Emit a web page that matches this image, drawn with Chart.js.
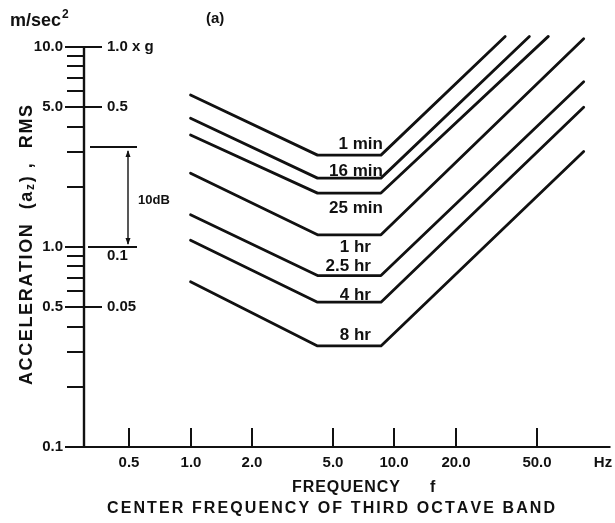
<!DOCTYPE html>
<html>
<head>
<meta charset="utf-8">
<script src="https://cdn.jsdelivr.net/npm/chart.js@4.4.1/dist/chart.umd.min.js"></script>
<style>
  html, body { margin: 0; padding: 0; background: #fff; }
  canvas { display: block; }
</style>
</head>
<body>
<canvas id="chart" width="615" height="523"></canvas>
<script>
// exposure curves (m/sec^2 against Hz)
const seriesNames = ['1 min', '16 min', '25 min', '1 hr', '2.5 hr', '4 hr', '8 hr']
const startFreq = 1.0
const kneeFreqs = [4.2, 8.6]
const startValues = [5.75, 4.40, 3.63, 2.34, 1.45, 1.08, 0.67]
const flatValues = [2.88, 2.21, 1.86, 1.15, 0.72, 0.53, 0.32]
const endFreqs = [35, 46, 57, 85, 85, 85, 85]
const endValues = [11.3, 11.3, 11.3, 11.0, 6.7, 5.0, 3.0]

// axes
const freqTicks = [0.5, 1, 2, 5, 10, 20, 50]
const freqTickLabels = ['0.5', '1.0', '2.0', '5.0', '10.0', '20.0', '50.0']
const accelMajor = [10, 5, 1, 0.5, 0.1]
const accelMajorLabels = ['10.0', '5.0', '1.0', '0.5', '0.1']
const gMajorLabels = ['1.0 x g', '0.5', '0.1', '0.05', null]
const accelMinor = [9, 8, 7, 6, 4, 3, 2, 0.9, 0.8, 0.7, 0.6, 0.4, 0.3, 0.2]

const INK = '#111'
const FONT = '"Liberation Sans", Arial, sans-serif'

// draws a run of text pieces, spreading the letters so the run spans `width`
function drawRun(ctx, parts, x0, y, width) {
  ctx.textAlign = 'left'
  ctx.textBaseline = 'middle'
  let natural = 0, count = 0
  parts.forEach(p => {
    ctx.font = p.font
    for (const ch of p.text) { natural += ctx.measureText(ch).width; count++ }
  })
  const gap = count > 1 ? (width - natural) / (count - 1) : 0
  let cx = x0
  parts.forEach(p => {
    ctx.font = p.font
    for (const ch of p.text) {
      ctx.fillText(ch, cx, y + (p.dy || 0))
      cx += ctx.measureText(ch).width + gap
    }
  })
}

const nameOffsets = [[2, -11], [2, -7], [2, 15], [-10, 12], [-10, -9], [-10, -7], [-10, -11]]

const figureAxes = {
  id: 'figureAxes',
  afterDatasetsDraw(chart) {
    const { ctx, scales: { x, y } } = chart
    const ax = x.left
    const by = y.getPixelForValue(0.1)
    ctx.save()
    ctx.strokeStyle = INK
    ctx.fillStyle = INK
    ctx.lineCap = 'butt'

    // axis lines
    ctx.lineWidth = 2.4
    ctx.beginPath()
    ctx.moveTo(ax, by)
    ctx.lineTo(ax, y.getPixelForValue(10))
    ctx.stroke()
    ctx.lineWidth = 2
    ctx.beginPath()
    ctx.moveTo(ax - 17, by)
    ctx.lineTo(x.right + 4, by)
    ctx.stroke()

    // y minor ticks (left of axis)
    accelMinor.forEach(v => {
      const py = Math.round(y.getPixelForValue(v))
      ctx.beginPath()
      ctx.moveTo(ax - 17, py)
      ctx.lineTo(ax, py)
      ctx.stroke()
    })

    // y major ticks and labels, m/sec^2 on the left, g on the right
    ctx.font = 'bold 15px ' + FONT
    accelMajor.forEach((v, i) => {
      const py = Math.round(y.getPixelForValue(v))
      ctx.beginPath()
      ctx.moveTo(ax - 19, py)
      ctx.lineTo(ax, py)
      ctx.stroke()
      ctx.textAlign = 'right'
      ctx.textBaseline = 'middle'
      ctx.fillText(accelMajorLabels[i], ax - 21, py)
      if (gMajorLabels[i]) {
        if (v !== 1) {
          ctx.beginPath()
          ctx.moveTo(ax, py)
          ctx.lineTo(ax + 18, py)
          ctx.stroke()
        }
        ctx.textAlign = 'left'
        ctx.fillText(gMajorLabels[i], ax + 23, v === 1 ? py + 9 : py)
      }
    })

    // x ticks and labels
    freqTicks.forEach((f, i) => {
      const px = Math.round(x.getPixelForValue(f))
      ctx.beginPath()
      ctx.moveTo(px, by)
      ctx.lineTo(px, by - 19)
      ctx.stroke()
      ctx.textAlign = 'center'
      ctx.textBaseline = 'middle'
      ctx.fillText(freqTickLabels[i], px, by + 16)
    })
    ctx.fillText('Hz', 603, by + 16)

    // 10 dB bracket
    const y1 = Math.round(y.getPixelForValue(1))
    const y10 = Math.round(y.getPixelForValue(Math.pow(10, 10 / 20)))
    ctx.lineWidth = 2
    ctx.beginPath()
    ctx.moveTo(ax + 6, y10); ctx.lineTo(137, y10)
    ctx.moveTo(ax + 4, y1); ctx.lineTo(137, y1)
    ctx.stroke()
    ctx.lineWidth = 1.4
    ctx.beginPath()
    ctx.moveTo(128, y10 + 4); ctx.lineTo(128, y1 - 3)
    ctx.stroke()
    ctx.beginPath()
    ctx.moveTo(128, y10 + 3); ctx.lineTo(125.5, y10 + 10); ctx.lineTo(130.5, y10 + 10); ctx.closePath()
    ctx.moveTo(128, y1 - 2); ctx.lineTo(125.5, y1 - 9); ctx.lineTo(130.5, y1 - 9); ctx.closePath()
    ctx.fill()
    ctx.font = 'bold 13px ' + FONT
    ctx.textAlign = 'left'
    ctx.textBaseline = 'middle'
    ctx.fillText('10dB', 138, (y1 + y10) / 2 + 3)

    // curve names beside the flat part
    const kx = x.getPixelForValue(kneeFreqs[1])
    ctx.font = 'bold 17px ' + FONT
    ctx.textAlign = 'right'
    ctx.textBaseline = 'middle'
    seriesNames.forEach((name, i) => {
      const [dx, dy] = nameOffsets[i]
      ctx.fillText(name, kx + dx, y.getPixelForValue(flatValues[i]) + dy)
    })

    // units and panel mark
    ctx.textAlign = 'left'
    ctx.textBaseline = 'alphabetic'
    ctx.font = 'bold 18px ' + FONT
    ctx.fillText('m/sec', 10, 26)
    const w = ctx.measureText('m/sec').width
    ctx.font = 'bold 12px ' + FONT
    ctx.fillText('2', 10 + w + 1, 18)
    ctx.font = 'bold 15px ' + FONT
    ctx.fillText('(a)', 206, 23)

    // x titles
    drawRun(ctx, [{ text: 'FREQUENCY', font: 'bold 16px ' + FONT }], 292, 488, 108)
    ctx.font = 'bold 16px ' + FONT
    ctx.fillText('f', 430, 488)
    drawRun(ctx, [{ text: 'CENTER FREQUENCY OF THIRD OCTAVE BAND', font: 'bold 16px ' + FONT }], 107, 509, 448)

    // y title
    ctx.translate(27, 245)
    ctx.rotate(-Math.PI / 2)
    drawRun(ctx, [
      { text: 'ACCELERATION  (a', font: 'bold 18px ' + FONT },
      { text: 'z', font: 'bold 12px ' + FONT, dy: 4 },
      { text: ') ,  RMS', font: 'bold 18px ' + FONT }
    ], -140, 0, 280)

    ctx.restore()
  }
}

const datasets = seriesNames.map((name, i) => ({
  label: name,
  data: [
    { x: startFreq, y: startValues[i] },
    { x: kneeFreqs[0], y: flatValues[i] },
    { x: kneeFreqs[1], y: flatValues[i] },
    { x: endFreqs[i], y: endValues[i] }
  ],
  borderColor: INK,
  borderWidth: 2.8,
  pointRadius: 0,
  tension: 0,
  fill: false,
  borderCapStyle: 'round',
  borderJoinStyle: 'round'
}))

new Chart(document.getElementById('chart'), {
  type: 'line',
  data: { datasets },
  options: {
    responsive: false,
    animation: false,
    events: [],
    layout: { padding: { left: 84, top: 33, right: 8.5, bottom: 76 } },
    scales: {
      x: { type: 'logarithmic', min: 0.31, max: 110, display: false },
      y: { type: 'logarithmic', min: 0.1, max: 11.75, display: false }
    },
    plugins: {
      legend: { display: false },
      tooltip: { enabled: false }
    }
  },
  plugins: [figureAxes]
})
</script>
</body>
</html>
